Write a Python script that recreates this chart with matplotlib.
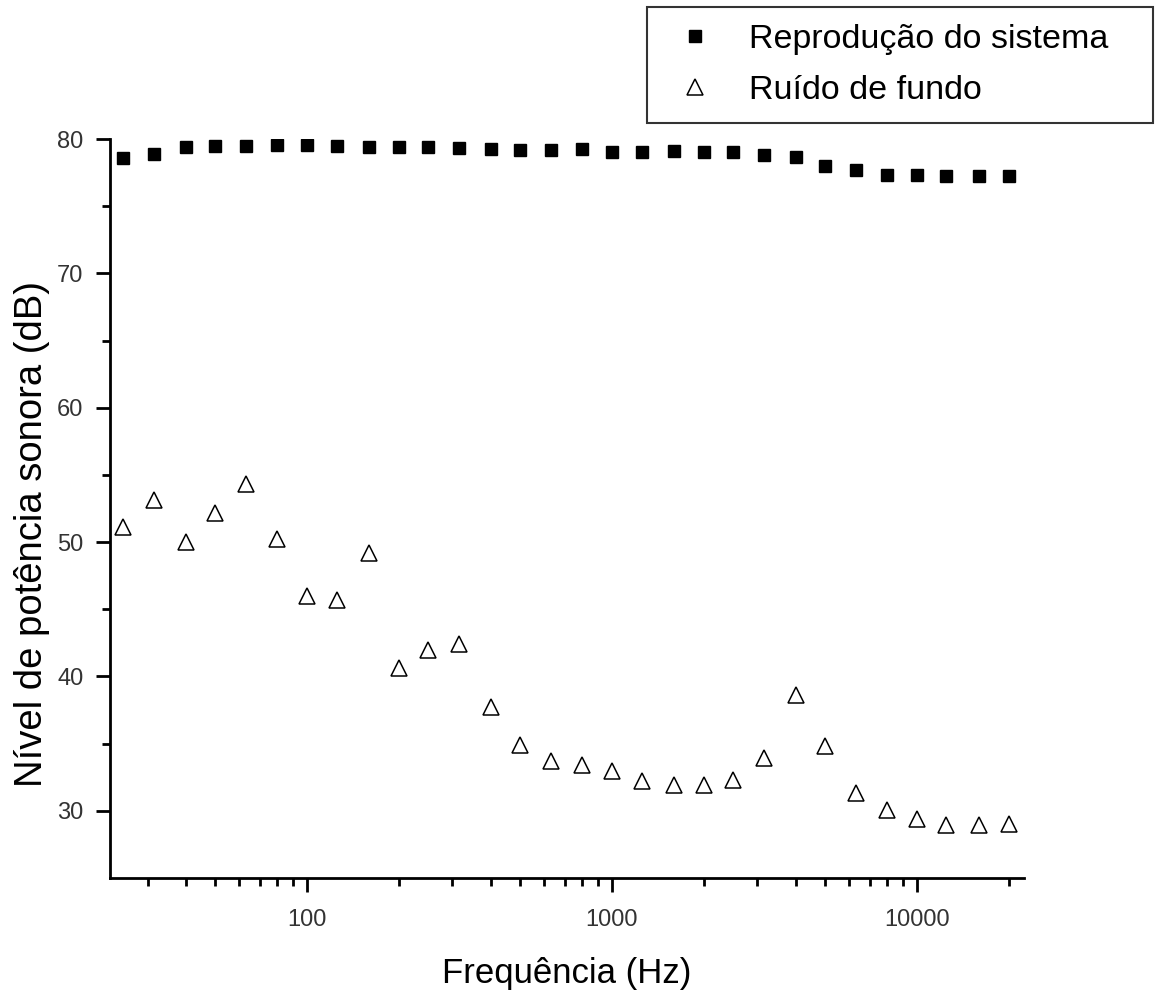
import numpy as np
import matplotlib
matplotlib.use("Agg")
import matplotlib.pyplot as plt
from matplotlib.ticker import LogLocator, FixedLocator, NullFormatter, FuncFormatter

plt.rcParams["font.family"] = ["Liberation Sans", "DejaVu Sans"]

# 1/3 octave bands (Hz)
freq = [25, 31.5, 40, 50, 63, 80, 100, 125, 160, 200, 250, 315, 400, 500, 630,
        800, 1000, 1250, 1600, 2000, 2500, 3150, 4000, 5000, 6300, 8000, 10000,
        12500, 16000, 20000]

reproducao = [78.6, 78.9, 79.4, 79.5, 79.5, 79.55, 79.55, 79.5, 79.4, 79.4,
              79.4, 79.3, 79.25, 79.2, 79.2, 79.25, 79.0, 79.0, 79.1, 79.0,
              79.0, 78.8, 78.65, 78.0, 77.7, 77.3, 77.3, 77.25, 77.25, 77.25]

ruido = [51.1, 53.1, 50.0, 52.2, 54.3, 50.2, 46.0, 45.7, 49.2, 40.6,
         42.0, 42.4, 37.7, 34.9, 33.7, 33.4, 33.0, 32.2, 31.9, 31.9,
         32.3, 33.9, 38.6, 34.8, 31.3, 30.1, 29.4, 28.95, 28.95, 29.0]

fig = plt.figure(figsize=(11.59, 9.98), dpi=100)
ax = fig.add_axes([0.0949, 0.1202, 0.7886, 0.7405])

ax.plot(freq, reproducao, ls="none", marker="s", ms=9, color="black",
        label="Reprodução do sistema")
ax.plot(freq, ruido, ls="none", marker="^", ms=12, mfc="white", mec="black",
        mew=1.1, label="Ruído de fundo")

ax.set_xscale("log")
ax.set_xlim(22.6, 22440)
ax.set_ylim(25, 80)

ax.xaxis.set_major_locator(FixedLocator([100, 1000, 10000]))
ax.xaxis.set_major_formatter(FuncFormatter(lambda v, p: f"{v:.0f}"))
ax.xaxis.set_minor_locator(LogLocator(base=10, subs=np.arange(2, 10)))
ax.xaxis.set_minor_formatter(NullFormatter())
ax.set_yticks([30, 40, 50, 60, 70, 80])
ax.set_yticks([35, 45, 55, 65, 75], minor=True)

ax.spines[["top", "right"]].set_visible(False)
for s in ["left", "bottom"]:
    ax.spines[s].set_linewidth(2)
ax.tick_params(which="major", direction="out", length=10, width=2,
               labelsize=17, labelcolor="#333333")
ax.tick_params(axis="x", which="major", pad=12)
ax.tick_params(axis="y", which="major", pad=9)
ax.tick_params(which="minor", direction="out", length=6, width=2)

ax.set_xlabel("Frequência (Hz)", fontsize=25, labelpad=19)
ax.set_ylabel("Nível de potência sonora (dB)", fontsize=27.5)
ax.yaxis.set_label_coords(-0.0656, 0.466)

leg = fig.legend(loc="upper left", mode="expand",
                 bbox_to_anchor=(647 / 1159, 1 - 124 / 998, 506 / 1159, 117 / 998),
                 borderaxespad=0, fontsize=24.5, frameon=True, fancybox=False,
                 edgecolor="black", borderpad=0.5, handletextpad=0.7,
                 labelspacing=0.58, markerscale=1.0, handlelength=1.8)
leg.get_frame().set_linewidth(1.5)

plt.savefig("out.png", dpi=100)
